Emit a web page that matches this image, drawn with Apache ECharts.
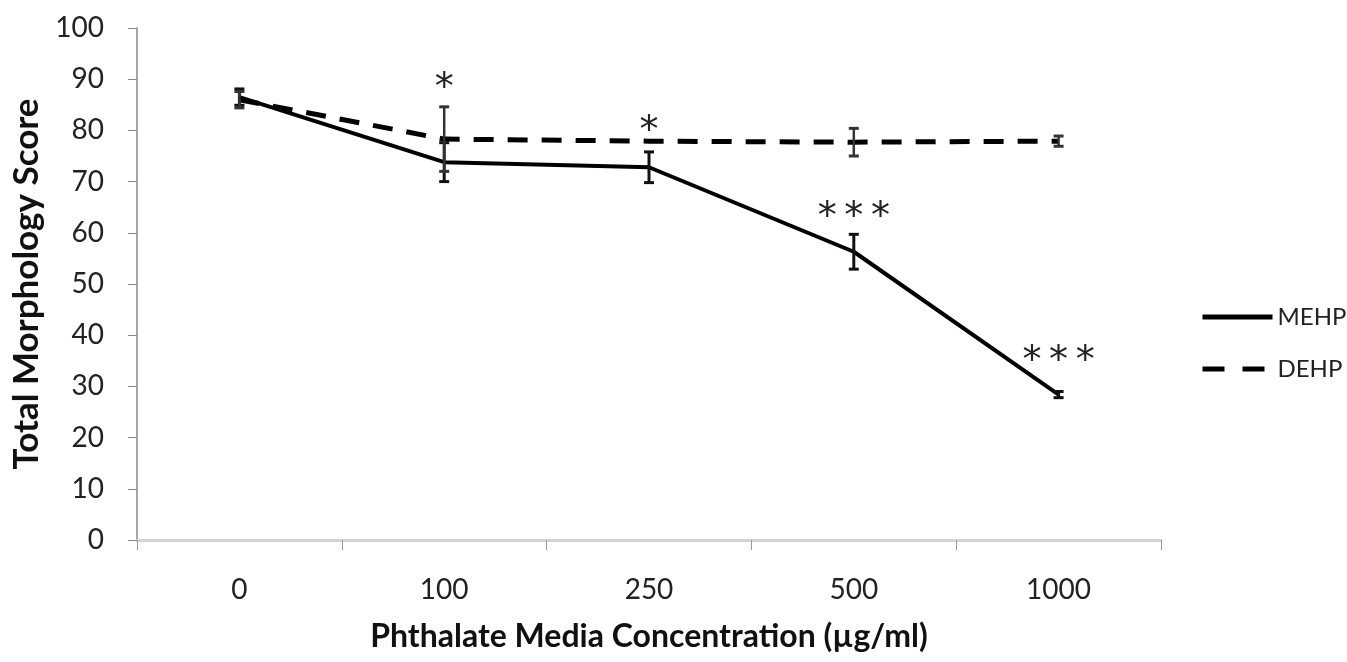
<!DOCTYPE html>
<html>
<head>
<meta charset="utf-8">
<script src="https://cdn.jsdelivr.net/npm/echarts@6/dist/echarts.min.js"></script>
<style>
html,body{margin:0;padding:0;background:#fff;}
#main{width:1347px;height:662px;}
</style>
</head>
<body>
<div id="main"></div>
<script>
var categories = ['0', '100', '250', '500', '1000'];
var mehpValues = [86.5, 73.8, 72.8, 56.3, 28.4];
var mehpErr = [1.6, 3.8, 3.0, 3.4, 0.6];
var dehpValues = [86.0, 78.3, 77.9, 77.7, 77.9];
var dehpErr = [1.6, 6.3, 0.0, 2.7, 1.0];
var starText = ['', '*', '*', '*\u2009*\u2009*', '*\u2009*\u2009*'];
var starLevels = [null, 88.0, 79.6, 62.8, 34.8];
var yTicks = [0, 10, 20, 30, 40, 50, 60, 70, 80, 90, 100];

var font = 'Lato, "Open Sans", sans-serif';

function errData(vals, errs) {
  return vals.map(function (v, i) { return [i, v - errs[i], v + errs[i]]; }).filter(function (d, i) { return errs[i] > 0; });
}

function errRender(color, width) {
  return function (params, api) {
    var x = api.value(0);
    var lo = api.coord([x, api.value(1)]);
    var hi = api.coord([x, api.value(2)]);
    var cap = 5;
    return {
      type: 'group',
      children: [
        { type: 'line', shape: { x1: lo[0], y1: lo[1], x2: hi[0], y2: hi[1] }, style: { stroke: color, lineWidth: width } },
        { type: 'line', shape: { x1: lo[0] - cap, y1: lo[1], x2: lo[0] + cap, y2: lo[1] }, style: { stroke: color, lineWidth: 3 } },
        { type: 'line', shape: { x1: hi[0] - cap, y1: hi[1], x2: hi[0] + cap, y2: hi[1] }, style: { stroke: color, lineWidth: 3 } }
      ]
    };
  };
}

var starData = [];
starLevels.forEach(function (v, i) { if (v !== null) starData.push([i, v]); });

var chart = echarts.init(document.getElementById('main'), null, { renderer: 'canvas' });
chart.setOption({
  animation: false,
  backgroundColor: '#fff',
  grid: { left: 137, right: 186, top: 28, bottom: 122, containLabel: false },
  legend: {
    orient: 'vertical',
    left: 1195,
    top: 300,
    itemWidth: 70,
    itemHeight: 14,
    itemGap: 28,
    itemStyle: { opacity: 0 },
    lineStyle: { width: 5 },
    textStyle: { fontFamily: font, fontSize: 24, color: '#222' },
    data: [
      { name: 'MEHP' },
      { name: 'DEHP', lineStyle: { width: 5, type: [22, 18, 22, 30] } }
    ]
  },
  xAxis: {
    type: 'category',
    data: categories,
    boundaryGap: true,
    name: 'Phthalate Media Concentration (µg/ml)',
    nameLocation: 'middle',
    nameGap: 81,
    nameTextStyle: { fontFamily: font, fontSize: 32, fontWeight: 'bold', color: '#111' },
    axisLine: { lineStyle: { color: '#d4d4d4', width: 3 } },
    axisTick: { show: true, length: 10, lineStyle: { color: '#999', width: 1 } },
    axisLabel: { margin: 36, fontFamily: font, fontSize: 28, color: '#222' },
    splitLine: { show: false }
  },
  yAxis: {
    type: 'value',
    min: 0,
    max: 100,
    interval: 10,
    name: 'Total Morphology Score',
    nameLocation: 'middle',
    nameGap: 91,
    nameTextStyle: { fontFamily: font, fontSize: 35, fontWeight: 'bold', color: '#111' },
    axisLine: { show: true, lineStyle: { color: '#888', width: 1.5 } },
    axisTick: { show: true, length: 9, lineStyle: { color: '#888', width: 1 } },
    axisLabel: {
      margin: 33, fontFamily: font, fontSize: 28, color: '#222',
      formatter: function (v) { return yTicks.indexOf(v) >= 0 ? String(v) : ''; }
    },
    splitLine: { show: false }
  },
  series: [
    {
      name: 'MEHP', type: 'line', data: mehpValues, symbol: 'none',
      lineStyle: { color: '#000', width: 4, type: 'solid' },
      itemStyle: { color: '#000' }, z: 3
    },
    {
      name: 'DEHP', type: 'line', data: dehpValues, symbol: 'none',
      lineStyle: { color: '#000', width: 5, type: [20, 14] },
      itemStyle: { color: '#000' }, z: 2
    },
    {
      name: 'MEHP err', type: 'custom', data: errData(mehpValues, mehpErr),
      renderItem: errRender('#111', 3), z: 4, silent: true
    },
    {
      name: 'DEHP err', type: 'custom', data: errData(dehpValues, dehpErr),
      renderItem: errRender('#333', 2.5), z: 4, silent: true
    },
    {
      name: 'stars', type: 'custom', silent: true, z: 5,
      data: starData,
      renderItem: function (params, api) {
        var idx = api.value(0);
        var p = api.coord([idx, api.value(1)]);
        return {
          type: 'text',
          x: p[0], y: p[1],
          style: {
            text: starText[idx],
            fontFamily: '"DejaVu Sans", sans-serif', fontSize: 38, fill: '#222',
            align: 'center', verticalAlign: 'middle'
          }
        };
      }
    }
  ]
});
</script>
</body>
</html>
